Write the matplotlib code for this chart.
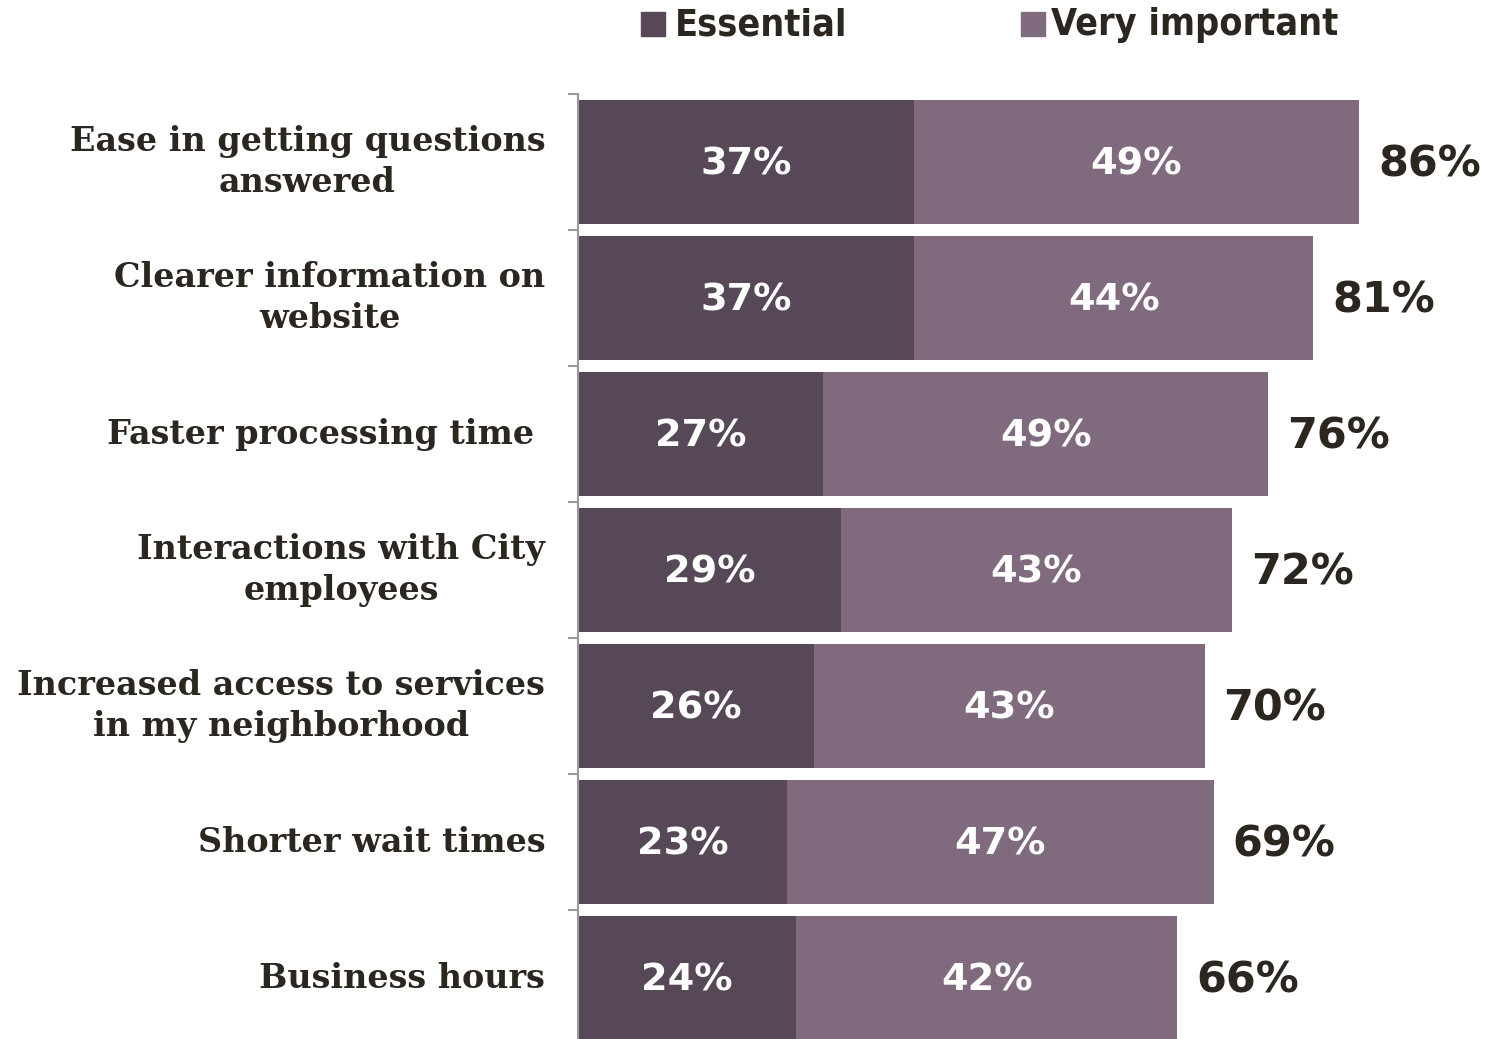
import matplotlib
matplotlib.use("Agg")
import matplotlib.pyplot as plt
from matplotlib.patches import Rectangle
from matplotlib import font_manager
import numpy as np

categories = [
    "Ease in getting questions\nanswered",
    "Clearer information on\nwebsite",
    "Faster processing time ",
    "Interactions with City\nemployees",
    "Increased access to services\nin my neighborhood",
    "Shorter wait times",
    "Business hours",
]
essential = [37, 37, 27, 29, 26, 23, 24]
very_important = [49, 44, 49, 43, 43, 47, 42]
totals = [86, 81, 76, 72, 70, 69, 66]
series_names = ["Essential", "Very important"]

C_DARK = "#574858"
C_LIGHT = "#806B7E"
C_TEXT = "#2B2620"

# find a condensed bold sans for the legend, if any is installed
cond_path = None
for f in font_manager.fontManager.ttflist:
    nm = (f.name + " " + str(f.stretch)).lower()
    if ("condensed" in nm or "narrow" in nm) and (f.weight in ("bold", 700) or (isinstance(f.weight, int) and f.weight >= 700)):
        if "sans" in f.name.lower() or "roboto" in f.name.lower():
            cond_path = f.fname
            break

W, H = 1487, 1039
fig = plt.figure(figsize=(W / 100, H / 100), dpi=100)
ax = fig.add_axes([578 / W, 1 - 1046 / H, 908 / W, 952 / H])

y = np.arange(len(categories))
ax.barh(y, essential, height=0.905, color=C_DARK, edgecolor="none")
ax.barh(y, very_important, left=essential, height=0.905, color=C_LIGHT, edgecolor="none")

ax.set_xlim(0, 100)
ax.set_ylim(len(categories) - 0.5, -0.5)

for i in range(len(categories)):
    ax.text(essential[i] / 2, i + 0.02, f"{essential[i]}%", ha="center", va="center",
            color="white", fontsize=27.5, fontweight="bold", family="DejaVu Sans")
    ax.text(essential[i] + very_important[i] / 2, i + 0.02, f"{very_important[i]}%",
            ha="center", va="center", color="white", fontsize=27.5,
            fontweight="bold", family="DejaVu Sans")
    ax.text(essential[i] + very_important[i] + 2.1, i + 0.02, f"{totals[i]}%",
            ha="left", va="center", color=C_TEXT, fontsize=31,
            fontweight="bold", family="DejaVu Sans")
    ax.text(-3.6, i, categories[i], ha="right", va="center", ma="center",
            color=C_TEXT, fontsize=24, fontweight="bold", family="DejaVu Serif",
            linespacing=1.3)

# spines and ticks
for s in ["top", "right", "bottom"]:
    ax.spines[s].set_visible(False)
ax.spines["left"].set_color("#9a9a9a")
ax.spines["left"].set_linewidth(1.5)
ax.set_xticks([])
ax.set_yticks(np.arange(-0.5, len(categories) + 0.5, 1))
ax.set_yticklabels([])
ax.tick_params(axis="y", length=7.2, width=1.5, color="#9a9a9a", direction="out")

# legend
if cond_path:
    leg_font = dict(fontproperties=font_manager.FontProperties(fname=cond_path, size=27))
else:
    leg_font = dict(fontsize=24, fontweight="bold", family="DejaVu Sans")
for (x0, xt), name, col in zip([(641, 675), (1021, 1051)], series_names, [C_DARK, C_LIGHT]):
    fig.add_artist(Rectangle((x0 / W, 1 - 36 / H), 24 / W, 24 / H,
                             transform=fig.transFigure, color=col))
    fig.text(xt / W, 1 - 25 / H, name, ha="left", va="center",
             color=C_TEXT, **leg_font)

fig.savefig("out.png", dpi=100)
